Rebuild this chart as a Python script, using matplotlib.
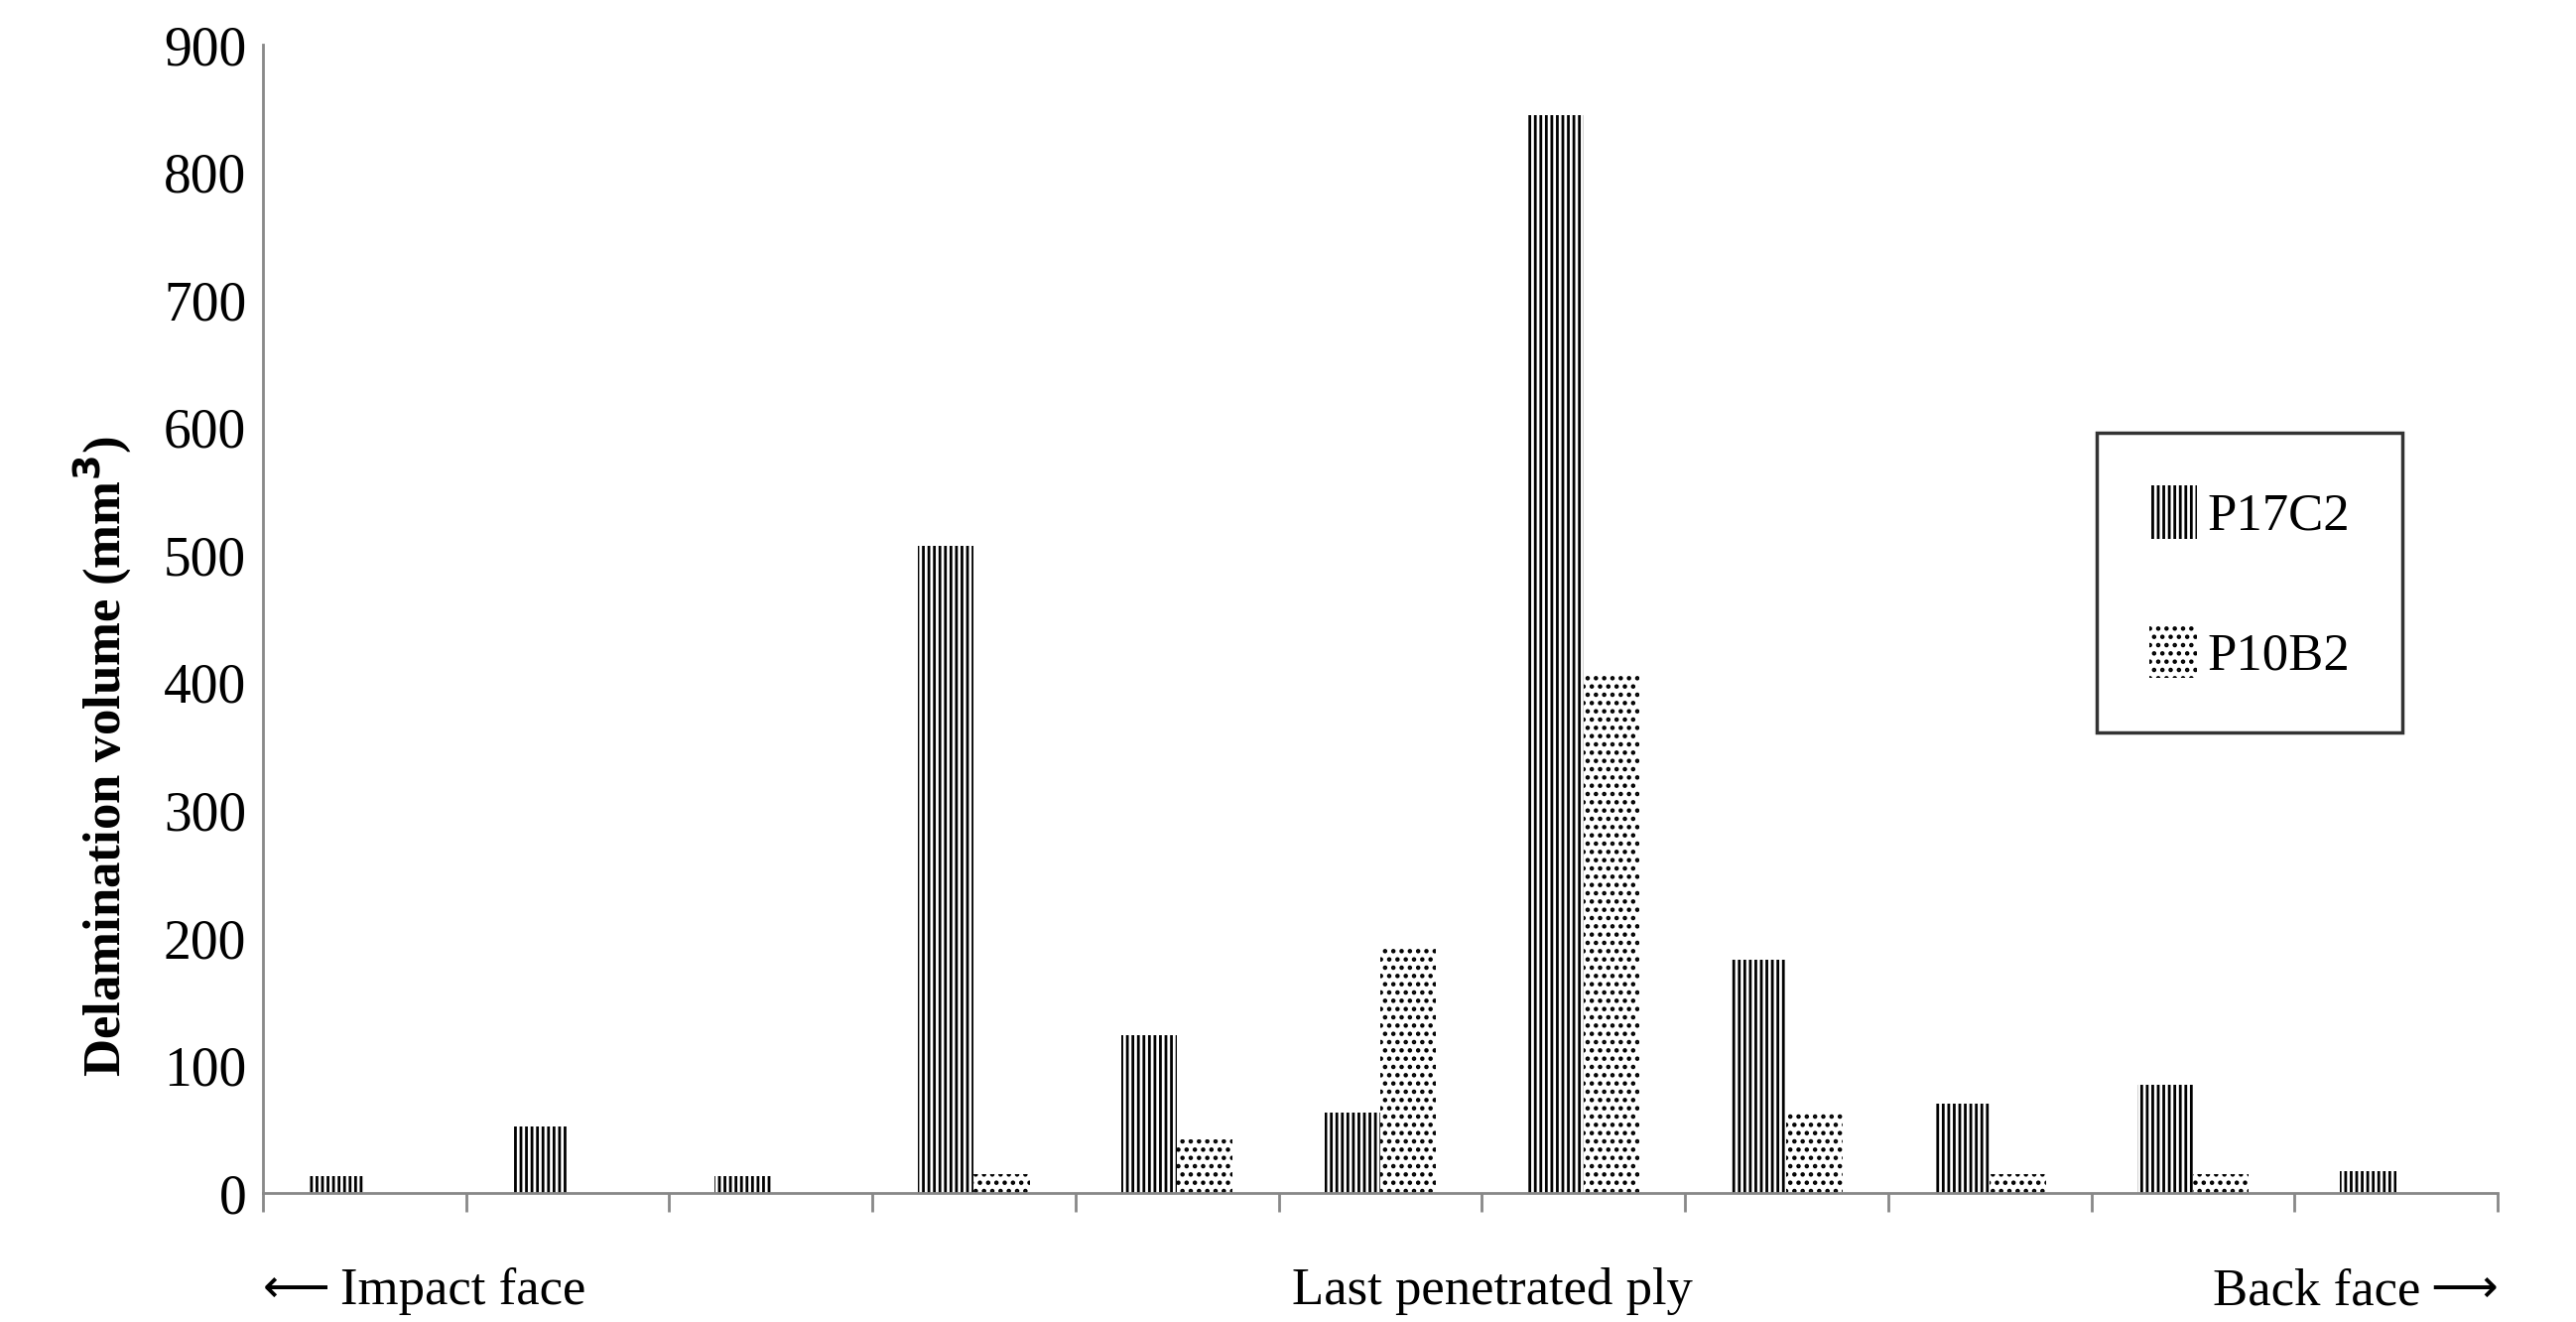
import numpy as np
import matplotlib.pyplot as plt

plt.rcParams['font.family'] = ['Liberation Serif', 'DejaVu Serif']
plt.rcParams['hatch.linewidth'] = 2.0

# -----------------------------
# Data
# -----------------------------
groups = np.arange(11)
p17c2 = [13, 52, 13, 507, 124, 63, 845, 183, 70, 85, 17]
p10b2 = [0, 0, 0, 15, 42, 192, 408, 63, 15, 15, 0]

fig = plt.figure(figsize=(25.96, 13.32), dpi=100)
ax = fig.add_axes([0.102, 0.0975, 0.8676, 0.8685])

w = 0.275
ax.bar(groups - w/2, p17c2, w, color='white', edgecolor='black', linewidth=0,
       hatch='|||', label='P17C2')
ax.bar(groups + w/2, p10b2, w, color='white', edgecolor='black', linewidth=0,
       hatch='..', label='P10B2')

ax.set_xlim(-0.5, 10.5)
ax.set_ylim(0, 900)
ax.set_yticks(range(0, 901, 100))
ax.set_xticks(np.arange(-0.5, 10.6, 1))
ax.set_xticklabels([])
ax.tick_params(axis='x', length=14, width=2, color='#888888')
ax.tick_params(axis='y', length=0, labelsize=40, pad=12)
for s in ['top', 'right']:
    ax.spines[s].set_visible(False)
for s in ['left', 'bottom']:
    ax.spines[s].set_color('#888888')
    ax.spines[s].set_linewidth(2)

ax.set_ylabel('Delamination volume (mm$^\\mathbf{3}$)', fontsize=38,
              fontweight='bold', labelpad=14)
ax.yaxis.set_label_coords(-0.058, 0.38)

arrow_font = ['DejaVu Sans']
tr = ax.get_xaxis_transform()
ax.text(-0.5, -0.065, '\u27f5', transform=tr, fontsize=34, ha='left', va='top',
        family=arrow_font)
ax.text(-0.12, -0.065, 'Impact face', transform=tr, fontsize=38, ha='left', va='top')
ax.text(5.55, -0.065, 'Last penetrated ply', transform=tr,
        fontsize=38, ha='center', va='top')
ax.text(10.12, -0.065, 'Back face', transform=tr, fontsize=38, ha='right', va='top')
ax.text(10.5, -0.065, '\u27f6', transform=tr, fontsize=34, ha='right', va='top',
        family=arrow_font)

leg = ax.legend(loc='upper left', bbox_to_anchor=(0.809, 0.685), fontsize=38,
                frameon=True, fancybox=False, edgecolor='black',
                handlelength=0.9, handleheight=1.2, handletextpad=0.2,
                labelspacing=1.6, borderpad=1.0)
leg.get_frame().set_linewidth(2.5)

fig.savefig('out.png', dpi=100)
